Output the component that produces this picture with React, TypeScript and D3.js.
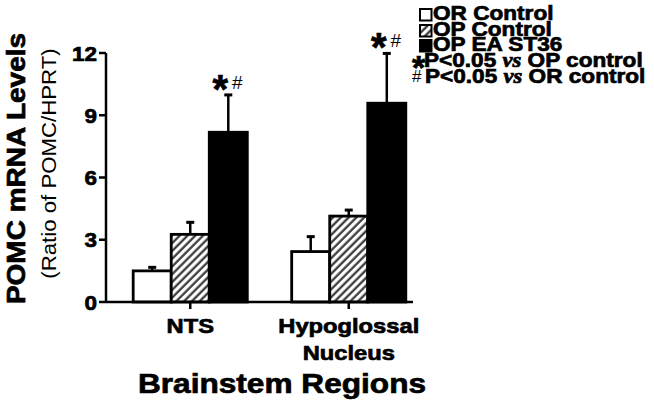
import React from 'react';
import * as d3 from 'd3';

// Données
const regions = ['NTS', 'Hypoglossal Nucleus'];
const groups = ['OR Control', 'OP Control', 'OP EA ST36'];
const means: number[][] = [
  [1.5, 3.26, 8.18],
  [2.43, 4.14, 9.58],
];
const errors: number[][] = [
  [0.17, 0.58, 1.8],
  [0.72, 0.29, 2.4],
];
const significant: boolean[][] = [
  [false, false, true],
  [false, false, true],
];
const yTicks = [0, 3, 6, 9, 12];

const SANS = '"Liberation Sans", Arial, sans-serif';
const SERIF = '"Liberation Serif", "Times New Roman", serif';

// Texte légèrement élargi comme dans l'original
const T: React.FC<{
  x: number; y: number; size: number; weight?: string; anchor?: string;
  rotate?: number; sx?: number; children: React.ReactNode; family?: string;
}> = ({ x, y, size, weight = 'bold', anchor = 'start', rotate = 0, sx = 1.13, children, family = SANS }) => (
  <text
    transform={`translate(${x},${y}) rotate(${rotate}) scale(${sx},1)`}
    fontFamily={family}
    fontSize={size}
    fontWeight={weight}
    textAnchor={anchor}
    fill="#000"
    stroke={weight === 'bold' ? '#000' : 'none'}
    strokeWidth={weight === 'bold' ? 0.7 : 0}
  >
    {children}
  </text>
);

const App: React.FC = () => {
  const width = 654;
  const height = 415;

  const x = d3.scaleBand<string>()
    .domain(regions)
    .range([111, 428])
    .paddingInner(0.28)
    .paddingOuter(0.14);

  const xInner = d3.scaleBand<string>()
    .domain(groups)
    .range([0, x.bandwidth()]);

  const y = d3.scaleLinear().domain([0, 12]).range([302, 53]);

  const axisX0 = 106;
  const axisX1 = 413;

  const fills = ['#fff', 'url(#hatch)', '#000'];

  const legendRows = [20, 36, 51, 67, 83];

  return (
    <svg width={width} height={height} style={{ position: 'absolute', left: 0, top: 0, background: '#fff' }}>
      <defs>
        <pattern id="hatch" patternUnits="userSpaceOnUse" width={5.5} height={5.5} patternTransform="rotate(45)">
          <rect width={5.5} height={5.5} fill="#fff" />
          <line x1={1.5} y1={0} x2={1.5} y2={5.5} stroke="#333" strokeWidth={2.2} />
        </pattern>
      </defs>

      {/* Axe Y */}
      <line x1={axisX0} x2={axisX0} y1={y(12)} y2={y(0)} stroke="#000" strokeWidth={2.5} />
      {yTicks.map(t => (
        <g key={t}>
          <line x1={axisX0 - 7} x2={axisX0} y1={y(t)} y2={y(t)} stroke="#000" strokeWidth={2.5} />
          <T x={97} y={y(t) + 7.5} size={21} anchor="end" sx={1.07}>{t}</T>
        </g>
      ))}

      {/* Barres */}
      {regions.map((r, i) => (
        <g key={r} transform={`translate(${x(r)},0)`}>
          {groups.map((g, j) => {
            const bx = xInner(g) as number;
            const bw = xInner.bandwidth();
            const top = y(means[i][j]);
            const errTop = y(means[i][j] + errors[i][j]);
            const cx = bx + bw / 2;
            return (
              <g key={g}>
                <line x1={cx} x2={cx} y1={top} y2={errTop} stroke="#000" strokeWidth={2.5} />
                <line x1={cx - 4} x2={cx + 4} y1={errTop} y2={errTop} stroke="#000" strokeWidth={3} />
                <rect x={bx} y={top} width={bw} height={y(0) - top} fill={fills[j]} stroke="#000" strokeWidth={2.8} />
                {significant[i][j] && (
                  <g>
                    <T x={cx - 8} y={errTop + 8} size={40} anchor="middle" sx={1}>*</T>
                    <T x={cx + 9} y={errTop - 6} size={19} weight="normal" anchor="middle" sx={1}>#</T>
                  </g>
                )}
              </g>
            );
          })}
        </g>
      ))}

      {/* Axe X */}
      <line x1={axisX0} x2={axisX1} y1={y(0)} y2={y(0)} stroke="#000" strokeWidth={2.5} />
      {regions.map(r => {
        const cx = (x(r) as number) + x.bandwidth() / 2;
        return <line key={r} x1={cx} x2={cx} y1={y(0)} y2={y(0) + 7} stroke="#000" strokeWidth={2.5} />;
      })}
      {regions.map(r => {
        const cx = (x(r) as number) + x.bandwidth() / 2;
        const parts = r.split(' ');
        const lines = parts.length > 1 ? parts : [r];
        return (
          <g key={r}>
            {lines.map((l, k) => (
              <T key={l} x={cx} y={333 + k * 27} size={21} anchor="middle">{l}</T>
            ))}
          </g>
        );
      })}

      {/* Titres des axes */}
      <T x={282} y={393} size={28} anchor="middle">Brainstem Regions</T>
      <T x={25} y={168.5} size={25} anchor="middle" rotate={-90} sx={1.12}>POMC mRNA Levels</T>
      <T x={56} y={163.5} size={19.5} weight="normal" anchor="middle" rotate={-90} sx={1.14}>(Ratio of POMC/HPRT)</T>

      {/* Légende */}
      {groups.map((g, j) => (
        <g key={g}>
          <rect x={420} y={legendRows[j] - 11} width={11.5} height={11.5} fill={fills[j]} stroke="#000" strokeWidth={2} />
          <T x={433} y={legendRows[j]} size={20}>{g}</T>
        </g>
      ))}
      <T x={412} y={legendRows[3] + 12} size={34} sx={1}>*</T>
      <T x={424} y={legendRows[3]} size={20}>
        P&lt;0.05 <tspan fontFamily={SERIF} fontStyle="italic">vs</tspan> OP control
      </T>
      <T x={412} y={legendRows[4] - 1} size={17} weight="normal" sx={1}>#</T>
      <T x={425} y={legendRows[4]} size={20}>
        P&lt;0.05 <tspan fontFamily={SERIF} fontStyle="italic">vs</tspan> OR control
      </T>
    </svg>
  );
};

export default App;
